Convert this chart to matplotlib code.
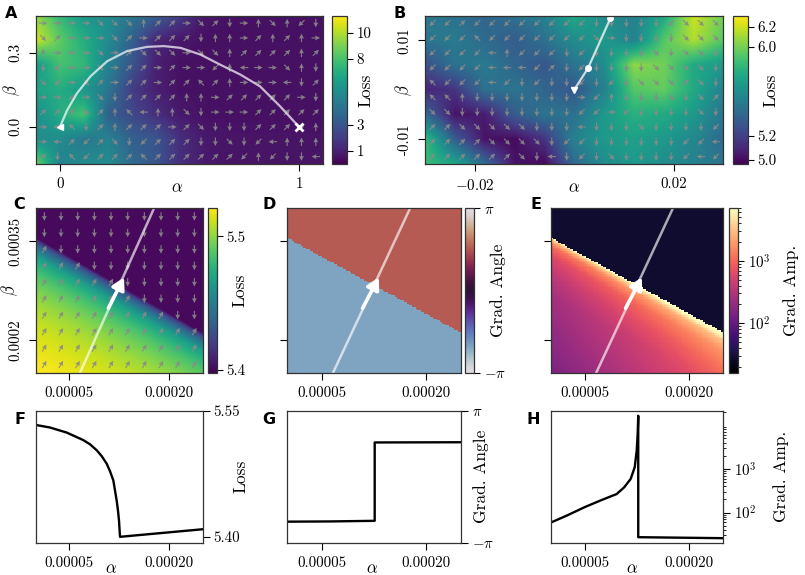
import numpy as np
import matplotlib
matplotlib.use('Agg')
import matplotlib.pyplot as plt
from matplotlib.colors import LogNorm

plt.rcParams['font.family'] = 'serif'
plt.rcParams['font.serif'] = ['cmr10']
plt.rcParams['mathtext.fontset'] = 'cm'
plt.rcParams['axes.unicode_minus'] = False
plt.rcParams['axes.formatter.use_mathtext'] = True
plt.rcParams['font.size'] = 10.8
plt.rcParams['xtick.major.size'] = 4.8
plt.rcParams['ytick.major.size'] = 4.8
plt.rcParams['xtick.major.pad'] = 5.0
plt.rcParams['ytick.major.pad'] = 5.0
plt.rcParams['axes.linewidth'] = 0.9
plt.rcParams['axes.edgecolor'] = '#333333'

W, H = 805, 575

# ---------------- data ----------------
# numpad style arrow codes: 6 right, 9 up-right, 8 up, 7 up-left, 4 left, 1 down-left, 2 down, 3 down-right
ARROW_DEG = {'6': 0, '9': 45, '8': 90, '7': 135, '4': 180, '1': 225, '2': 270, '3': 315}

# panel A: coarse loss samples, rows beta 0.45 -> -0.15, cols alpha -0.1 -> 1.1
a_alpha = [-0.1, 0.0, 0.1, 0.2, 0.3, 0.4, 0.5, 0.6, 0.7, 0.8, 0.9, 1.0, 1.1]
a_beta = [0.45, 0.35, 0.25, 0.15, 0.05, -0.05, -0.15]
a_loss = [
    [9.5, 7.5, 6.0, 5.5, 4.5, 3.5, 2.0, 0.7, 0.5, 0.5, 0.5, 0.5, 0.5],
    [10.5, 8.5, 7.0, 5.5, 3.5, 1.2, 0.7, 0.5, 0.5, 0.5, 0.5, 0.5, 0.5],
    [6.0, 8.0, 7.5, 5.0, 3.0, 1.0, 0.5, 0.5, 0.5, 0.5, 0.5, 0.5, 0.5],
    [6.5, 7.0, 6.0, 4.5, 2.0, 1.0, 0.5, 0.5, 0.5, 0.5, 0.5, 0.5, 0.5],
    [5.5, 7.0, 8.0, 3.5, 2.5, 1.5, 0.8, 0.5, 0.5, 0.5, 0.5, 0.5, 0.5],
    [5.5, 5.5, 4.5, 5.0, 3.5, 3.0, 1.5, 0.8, 0.6, 0.6, 0.6, 0.6, 0.6],
    [9.0, 5.0, 5.5, 5.5, 4.0, 3.0, 1.5, 0.8, 0.6, 0.6, 0.6, 0.6, 0.6],
]
a_arrows = [
    "66663338996392683812",
    "39666396999288698986",
    "86663693336338999989",
    "21663699696618466382",
    "31639699699798666429",
    "66163299998869999962",
    "99839874883266699999",
    "64729899969322299998",
    "64919321999223214888",
    "92719997999999181224",
]
a_path_alpha = [0.0, 0.031, 0.072, 0.128, 0.198, 0.281, 0.364, 0.434, 0.504,
                0.587, 0.670, 0.754, 0.837, 0.921, 1.0]
a_path_beta = [0.0, 0.069, 0.137, 0.205, 0.266, 0.307, 0.324, 0.327, 0.320,
               0.293, 0.252, 0.212, 0.164, 0.083, 0.0]

# panel B: coarse loss samples, rows beta 0.015 -> -0.015, cols alpha -0.03 -> 0.03
b_alpha = [-0.03, -0.024, -0.018, -0.012, -0.006, 0.0, 0.006, 0.012, 0.018, 0.024, 0.03]
b_beta = [0.015, 0.01, 0.005, 0.0, -0.005, -0.01, -0.015]
b_loss = [
    [5.48, 5.43, 5.37, 5.43, 5.52, 5.74, 5.58, 5.52, 5.72, 6.20, 5.99],
    [5.45, 5.48, 5.40, 5.33, 5.43, 5.58, 5.65, 5.52, 5.92, 6.13, 5.92],
    [5.27, 5.43, 5.48, 5.37, 5.30, 5.45, 5.58, 6.06, 5.99, 5.74, 5.65],
    [5.09, 5.15, 5.43, 5.45, 5.37, 5.30, 5.52, 5.92, 5.96, 5.74, 5.52],
    [5.39, 5.03, 5.06, 5.33, 5.45, 5.43, 5.65, 5.78, 5.74, 5.65, 5.45],
    [5.85, 5.33, 5.03, 5.00, 5.15, 5.52, 5.65, 5.69, 5.65, 5.55, 5.39],
    [5.85, 5.72, 5.39, 5.03, 4.99, 5.39, 5.58, 5.65, 5.58, 5.52, 5.45],
]
b_arrows = [
    "11911111111222221333",
    "11171111111362222333",
    "11114811121222232332",
    "11114441921222233332",
    "71114121221212333932",
    "77822222226182223239",
    "33222222221161222232",
    "99333332224222322221",
    "99993333211222222114",
    "99999932421232222141",
]
b_path_alpha = [0.0, 0.0028, 0.0073]
b_path_beta = [0.0, 0.0044, 0.0145]

# panels C-E: zoom on the kink
cde_alpha_lim = [0.0, 0.00025]
cde_beta_lim = [0.00015, 0.0004]
boundary_alpha = [0.0, 0.00025]
boundary_beta = [0.000355, 0.000211]
c_loss_upper = 5.401
d_angle_lower = -2.14
d_angle_upper = 1.63
e_amp_upper = 27
e_amp_tilt_decades = 0.5          # extra brightening towards the right edge in E
c_arrow_below_deg = 60
c_arrow_above_deg = 270
traj_alpha = [0.000066, 0.000177]
traj_beta = [0.00015, 0.0004]
step_tail = (0.0001085, 0.000248)
step_tip = (0.000132, 0.000295)

# panels F-H: values along the trajectory
f_alpha = [0.0, 0.000021, 0.000046, 0.000071, 0.000081, 0.000091, 0.0000985, 0.000106,
           0.000111, 0.000116, 0.0001185, 0.000121, 0.000123, 0.0001245, 0.000126, 0.00025]
f_loss = [5.533, 5.530, 5.524, 5.515, 5.510, 5.503, 5.496, 5.487,
          5.478, 5.467, 5.455, 5.443, 5.431, 5.419, 5.400, 5.409]
f_kink_index = 14
g_alpha = [0.0, 0.00006, 0.000126, 0.000126, 0.00025]
g_angle = [-2.14, -2.13, -2.10, 1.63, 1.64]
h_alpha = [0.0, 0.0000222, 0.00005, 0.0000734, 0.0000954, 0.0001064, 0.0001158,
           0.0001217, 0.0001246, 0.000126, 0.0001268, 0.0001268, 0.00025]
h_amp = [59, 84, 135, 193, 265, 378, 588, 1093, 2650, 6400, 16400, 27.4, 26]
h_kink_index = 10
kink_alpha = 0.000126

# ---------------- helpers ----------------
fig = plt.figure(figsize=(W / 100, H / 100), dpi=100)


def px_axes(l, t, r, b):
    return fig.add_axes([l / W, 1 - b / H, (r - l) / W, (b - t) / H])


def draw_arrows(ax, ang_deg, xlim, ylim):
    ang = np.deg2rad(np.asarray(ang_deg, float))
    nr, nc = ang.shape
    xs = xlim[0] + (np.arange(nc) + 0.5) * (xlim[1] - xlim[0]) / nc
    ys = ylim[1] - (np.arange(nr) + 0.5) * (ylim[1] - ylim[0]) / nr
    X, Y = np.meshgrid(xs, ys)
    ax.quiver(X, Y, np.cos(ang), np.sin(ang), color='#8a8a8a', alpha=0.9,
              pivot='middle', angles='uv', units='inches', scale_units='inches',
              scale=1 / 0.085, width=0.011, headwidth=4.5, headlength=4.5,
              headaxislength=4)


def codes_to_deg(rows):
    return [[ARROW_DEG[c] for c in r] for r in rows]


def grid_extent(xs, ys):
    dx = (xs[-1] - xs[0]) / (len(xs) - 1) / 2
    dy = (ys[0] - ys[-1]) / (len(ys) - 1) / 2
    return [xs[0] - dx, xs[-1] + dx, ys[-1] - dy, ys[0] + dy]


def colorbar(im, box, label, label_x, ticks=None, ticklabels=None):
    cax = px_axes(*box)
    cb = fig.colorbar(im, cax=cax)
    if ticks is not None:
        cb.set_ticks(ticks)
        cb.ax.minorticks_off()
    if ticklabels is not None:
        cb.set_ticklabels(ticklabels)
    cb.outline.set_linewidth(0.9)
    cb.ax.tick_params(length=4, width=0.8, labelsize=10.8, pad=3)
    cb.set_label(label, fontsize=12.5)
    cb.ax.yaxis.set_label_coords(label_x, 0.5)
    return cb


def panel_label(x, y, s):
    fig.text(x / W, 1 - y / H, s, family='DejaVu Sans', weight='bold',
             fontsize=11.5, ha='left', va='top')


# ---------------- A ----------------
axA = px_axes(36, 15.7, 323, 164)
imA = axA.imshow(a_loss, extent=grid_extent(a_alpha, a_beta), origin='upper',
                 cmap='viridis', vmin=0, vmax=11.3, interpolation='bilinear', aspect='auto')
draw_arrows(axA, codes_to_deg(a_arrows), [-0.1, 1.1], [-0.15, 0.45])
axA.plot(a_path_alpha, a_path_beta, color='white', alpha=0.7, lw=1.6)
axA.plot(a_path_alpha[0], a_path_beta[0], marker='<', color='white', ms=5)
axA.plot(a_path_alpha[-1], a_path_beta[-1], marker='x', color='white', ms=6, mew=2)
axA.set_xlim(-0.1, 1.1)
axA.set_ylim(-0.15, 0.45)
axA.set_xticks([0, 1])
axA.set_xticklabels(['0', '1'])
axA.set_yticks([0.0, 0.3])
axA.set_yticklabels(['0.0', '0.3'], rotation=90, va='center')
axA.set_xlabel(r'$\alpha$', fontsize=12)
axA.xaxis.set_label_coords(0.49, -0.105)
axA.set_ylabel(r'$\beta$', fontsize=12)
axA.yaxis.set_label_coords(-0.05, 0.5)
colorbar(imA, (332, 15.7, 347, 164), 'Loss', 1.73, [1, 3, 8, 10], ['1', '3', '8', '10'])

# ---------------- B ----------------
axB = px_axes(425, 15.7, 723.3, 164)
imB = axB.imshow(b_loss, extent=grid_extent(b_alpha, b_beta), origin='upper',
                 cmap='viridis', norm=LogNorm(4.968, 6.31), interpolation='bilinear', aspect='auto')
draw_arrows(axB, codes_to_deg(b_arrows), [-0.03, 0.03], [-0.015, 0.015])
axB.plot(b_path_alpha, b_path_beta, color='white', alpha=0.75, lw=1.6)
axB.plot(b_path_alpha[0], b_path_beta[0], marker='v', color='white', ms=5)
axB.plot(b_path_alpha[1:], b_path_beta[1:], 'o', color='white', ms=4)
axB.set_xlim(-0.03, 0.03)
axB.set_ylim(-0.015, 0.015)
axB.set_xticks([-0.02, 0.02])
axB.set_xticklabels([r'$-0.02$', '0.02'])
axB.set_yticks([-0.01, 0.01])
axB.set_yticklabels(['-0.01', '0.01'], rotation=90, va='center')
axB.set_xlabel(r'$\alpha$', fontsize=12)
axB.xaxis.set_label_coords(0.5, -0.105)
axB.set_ylabel(r'$\beta$', fontsize=12)
axB.yaxis.set_label_coords(-0.037, 0.5)
colorbar(imB, (733, 15.7, 747.7, 164), 'Loss', 2.04, [5.0, 5.2, 6.0, 6.2],
         ['5.0', '5.2', '6.0', '6.2'])

# ---------------- C-E fields ----------------
# the zoomed fields are the F/H profiles swept along the kink line
traj_slope = (traj_beta[1] - traj_beta[0]) / (traj_alpha[1] - traj_alpha[0])
bnd_slope = (boundary_beta[1] - boundary_beta[0]) / (boundary_alpha[1] - boundary_alpha[0])


def field_grid(n):
    al = np.linspace(cde_alpha_lim[0], cde_alpha_lim[1], n)
    be = np.linspace(cde_beta_lim[0], cde_beta_lim[1], n)
    AA, BB = np.meshgrid(al, be)
    u = (AA - cde_alpha_lim[0]) / (cde_alpha_lim[1] - cde_alpha_lim[0])
    gap = np.interp(AA, boundary_alpha, boundary_beta) - BB
    prof_x = kink_alpha - gap / (traj_slope - bnd_slope)
    return u, prof_x, gap > 0


cde_extent = cde_alpha_lim + cde_beta_lim
u, px_, below = field_grid(300)
c_field = np.where(below, np.interp(px_, f_alpha[:f_kink_index + 1],
                                    f_loss[:f_kink_index + 1]), c_loss_upper)
u, px_, below = field_grid(100)
d_field = np.where(below, d_angle_lower, d_angle_upper)
e_log = np.interp(px_, h_alpha[:h_kink_index + 1],
                  np.log10(h_amp[:h_kink_index + 1])) + e_amp_tilt_decades * u
e_field = np.where(below, 10 ** e_log, e_amp_upper)

# arrow directions for C: which side of the kink each cell centre lies on
nq = 10
qa = cde_alpha_lim[0] + (np.arange(nq) + 0.5) * (cde_alpha_lim[1] - cde_alpha_lim[0]) / nq
qb = cde_beta_lim[1] - (np.arange(nq) + 0.5) * (cde_beta_lim[1] - cde_beta_lim[0]) / nq
QA, QB = np.meshgrid(qa, qb)
c_arrow_deg = np.where(QB < np.interp(QA, boundary_alpha, boundary_beta),
                       c_arrow_below_deg, c_arrow_above_deg)


def zoom_panel(box, field, **kw):
    ax = px_axes(*box)
    im = ax.imshow(field, extent=cde_extent, origin='lower', aspect='auto', **kw)
    ax.plot(traj_alpha, traj_beta, color='white', alpha=0.65, lw=1.8)
    ax.annotate('', xy=step_tip, xytext=step_tail,
                arrowprops=dict(arrowstyle='-|>,head_length=0.5,head_width=0.28',
                                color='white', lw=2.6, shrinkA=0, shrinkB=0,
                                mutation_scale=14))
    ax.set_xlim(cde_alpha_lim)
    ax.set_ylim(cde_beta_lim)
    ax.set_xticks([0.00005, 0.0002])
    ax.set_xticklabels(['0.00005', '0.00020'])
    ax.set_yticks([0.0002, 0.00035])
    return ax, im


axC, imC = zoom_panel((36, 208.3, 202.7, 372.7), c_field, cmap='viridis',
                      vmin=5.398, vmax=5.521, interpolation='bilinear')
draw_arrows(axC, c_arrow_deg, cde_alpha_lim, cde_beta_lim)
axC.set_yticklabels(['0.0002', '0.00035'], rotation=90, va='center')
axC.set_ylabel(r'$\beta$', fontsize=12)
axC.yaxis.set_label_coords(-0.096, 0.5)
colorbar(imC, (208.3, 208.3, 216.7, 372.7), 'Loss', 2.8, [5.4, 5.5], ['5.4', '5.5'])

axD, imD = zoom_panel((287.3, 208.3, 460.7, 372.7), d_field, cmap='twilight',
                      vmin=-np.pi, vmax=np.pi, interpolation='nearest')
axD.set_yticklabels([])
colorbar(imD, (465, 208.3, 474, 372.7), 'Grad. Angle', 2.78, [-np.pi, np.pi],
         [r'$-\pi$', r'$\pi$'])

axE, imE = zoom_panel((550.7, 208.3, 723.3, 372.7), e_field, cmap='magma',
                      norm=LogNorm(16, 7000), interpolation='nearest')
axE.set_yticklabels([])
cbE = colorbar(imE, (729, 208.3, 738.3, 372.7), 'Grad. Amp.', 5.8)
cbE.ax.tick_params(which='minor', length=2.2, width=0.6)

# ---------------- F-H profiles ----------------
def profile_panel(box, xs, ys, label, label_x, xlabel_x):
    ax = px_axes(*box)
    ax.plot(xs, ys, color='black', lw=1.7)
    ax.set_xlim(cde_alpha_lim)
    ax.set_xticks([0.00005, 0.0002])
    ax.set_xticklabels(['0.00005', '0.00020'])
    ax.yaxis.tick_right()
    ax.yaxis.set_label_position('right')
    ax.tick_params(axis='y', pad=3)
    ax.set_xlabel(r'$\alpha$', fontsize=12)
    ax.xaxis.set_label_coords(xlabel_x, -0.135)
    ax.set_ylabel(label, fontsize=12.5)
    ax.yaxis.set_label_coords(label_x, 0.5)
    return ax


axF = profile_panel((36, 410.7, 202.7, 542.7), f_alpha, f_loss, 'Loss', 1.18, 0.45)
axF.set_ylim(5.393, 5.55)
axF.set_yticks([5.40, 5.55])
axF.set_yticklabels(['5.40', '5.55'])

axG = profile_panel((287.3, 410.7, 460.7, 542.7), g_alpha, g_angle, 'Grad. Angle', 1.07, 0.49)
axG.set_ylim(-np.pi, np.pi)
axG.set_yticks([-np.pi, np.pi])
axG.set_yticklabels([r'$-\pi$', r'$\pi$'])

axH = profile_panel((550.7, 410.7, 723.3, 542.7), h_alpha, h_amp, 'Grad. Amp.', 1.29, 0.47)
axH.set_yscale('log')
axH.set_ylim(20.5, 21400)
axH.set_yticks([100, 1000])
axH.set_yticklabels([r'$10^2$', r'$10^3$'])
axH.tick_params(axis='y', which='minor', length=2.2, width=0.6)

for x, y, s in [(5, 6, 'A'), (393, 6, 'B'), (13, 197, 'C'), (262, 197, 'D'),
                (530, 197, 'E'), (14, 412, 'F'), (262, 412, 'G'), (527, 412, 'H')]:
    panel_label(x, y, s)

fig.savefig('out.png', dpi=100)
